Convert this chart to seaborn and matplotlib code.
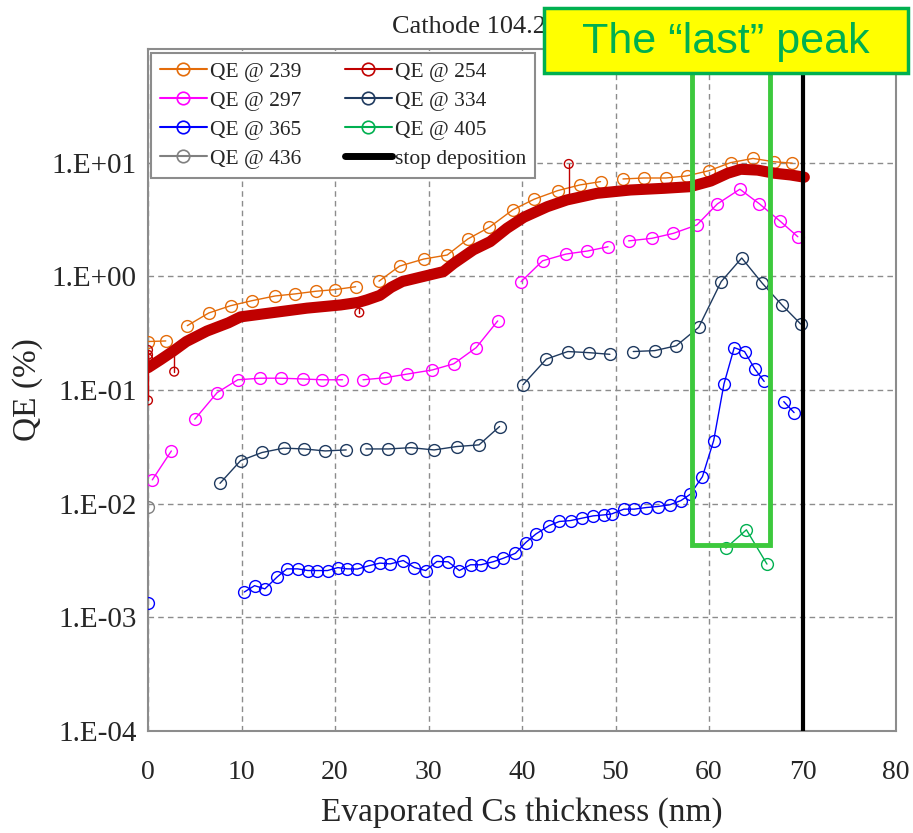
import numpy as np
import pandas as pd
import matplotlib
matplotlib.use("Agg")
import matplotlib.pyplot as plt
from matplotlib.lines import Line2D
from matplotlib.patches import Rectangle
import seaborn as sns

nan = np.nan

# ---------------- data ----------------
x239 = [0, 1.9, nan, 4.2, 6.5, 8.85, 11.1, 13.6, 15.7, 18.0, 20.0, 22.2, nan, 24.7, 26.9, 29.5, 32.0,
        34.2, 36.5, 39.0, 41.3, 43.8, 46.2, 48.4, nan, 50.8, 53.0, 55.4, 57.6, 60.0, 62.3, 64.7, 66.9, 68.9]
y239 = [0.267, 0.27, nan, 0.368, 0.476, 0.552, 0.61, 0.672, 0.70, 0.74, 0.764, 0.81, nan, 0.906, 1.23, 1.42, 1.54,
        2.13, 2.70, 3.84, 4.77, 5.67, 6.37, 6.81, nan, 7.19, 7.33, 7.33, 7.64, 8.5, 10.0, 10.9, 10.2, 9.9]

x254 = [0, 1.3, 2.7, 4.1, 6.3, 8.6, 9.9, 13.4, 17.0, 20.6, 22.5, 23.4, 24.8, 26.0, 27.2, 29.5, 31.6, 32.7,
        34.8, 36.6, 38.4, 40.2, 42.7, 44.8, 48.0, 51.6, 55.2, 58.0, 60.2, 62.0, 63.4, 65.2, 67.0, 68.7, 70.2]
y254 = [0.157, 0.184, 0.22, 0.267, 0.33, 0.39, 0.44, 0.48, 0.525, 0.56, 0.59, 0.62, 0.68, 0.80, 0.90, 1.0, 1.1, 1.3,
        1.71, 2.02, 2.65, 3.31, 4.1, 4.7, 5.37, 5.75, 5.95, 6.15, 6.9, 8.07, 8.75, 8.6, 8.07, 7.8, 7.45]
x254_spike = [0, 0, 0, 0, 2.8, 22.6, 45.0]
y254_spike = [0.081, 0.19, 0.204, 0.225, 0.145, 0.48, 9.74]

x297 = [0.46, 2.5, nan, 5.0, 7.4, 9.6, 12.0, 14.2, 16.6, 18.6, 20.8, nan, 23.0, 25.3, 27.7, 30.4, 32.7, 35.1, 37.4,
        nan, 39.9, 42.2, 44.7, 47.0, 49.2, nan, 51.4, 53.9, 56.2, 58.7, 60.9, 63.3, 65.4, 67.6, 69.5]
y297 = [0.0162, 0.0291, nan, 0.0553, 0.0949, 0.123, 0.127, 0.127, 0.125, 0.123, 0.123, nan, 0.123, 0.128, 0.138, 0.150,
        0.17, 0.236, 0.405, nan, 0.897, 1.37, 1.57, 1.67, 1.82, nan, 2.05, 2.16, 2.39, 2.83, 4.34, 5.84, 4.34, 3.06, 2.23]

x334 = [7.7, 9.9, 12.2, 14.5, 16.7, 18.95, 21.2, nan, 23.3, 25.7, 28.1, 30.6, 33.0, 35.4, 37.6, nan,
        40.1, 42.6, 44.9, 47.2, 49.4, nan, 51.9, 54.2, 56.5, 58.9, 61.3, 63.5, 65.7, 67.8, 69.8]
y334 = [0.0151, 0.0239, 0.0282, 0.0308, 0.0303, 0.0291, 0.0297, nan, 0.0303, 0.0303, 0.0311, 0.0297, 0.0318, 0.0329,
        0.0477, nan, 0.111, 0.187, 0.218, 0.213, 0.206, nan, 0.218, 0.222, 0.245, 0.356, 0.898, 1.45, 0.869, 0.56, 0.381]

x365 = [0, nan, 10.3, 11.4, 12.5, 13.8, 14.85, 16.0, 17.1, 18.1, 19.2, 20.3, 21.3, 22.4, 23.6, 24.8, 25.9, 27.3,
        28.5, 29.7, 30.9, 32.1, 33.3, 34.5, 35.6, 36.9, 38.0, 39.3, 40.4, 41.5, 42.9, 44.0, 45.2, 46.4, 47.6,
        48.8, 49.6, 50.9, 52.0, 53.3, 54.5, 55.8, 57.0, 58.0, 59.3, 60.5, 61.6, 62.7, 63.8, 64.9, 65.9, nan,
        68.0, 69.1]
y365 = [0.00133, nan, 0.00167, 0.0019, 0.00178, 0.00226, 0.00267, 0.00267, 0.00258, 0.00258, 0.00258, 0.00274,
        0.00267, 0.00266, 0.00284, 0.0030, 0.00295, 0.00316, 0.00274, 0.00258, 0.0031, 0.00308, 0.00258, 0.0029,
        0.0029, 0.00308, 0.00331, 0.00366, 0.00455, 0.00542, 0.00641, 0.00697, 0.0071, 0.00745, 0.00781, 0.00797,
        0.00813, 0.00895, 0.00895, 0.00925, 0.00944, 0.00977, 0.01065, 0.0121, 0.0173, 0.0359, 0.113, 0.236,
        0.218, 0.153, 0.119, nan, 0.079, 0.0633]

x405 = [61.8, 64.0, 66.2]
y405 = [0.00406, 0.00589, 0.00294]

x436 = [0]
y436 = [0.0094]

stop_x = 70
peak_box_x = [58.2, 66.5]
peak_box_bottom = 0.00435

legend_labels = ["QE @ 239", "QE @ 254", "QE @ 297", "QE @ 334", "QE @ 365", "QE @ 405", "QE @ 436",
                 "stop deposition"]
x_ticks = [0, 10, 20, 30, 40, 50, 60, 70, 80]
y_ticks = [1e-4, 1e-3, 1e-2, 1e-1, 1e0, 1e1]
y_ticklabels = ["1.E-04", "1.E-03", "1.E-02", "1.E-01", "1.E+00", "1.E+01"]
title_text = "Cathode 104.2"
note_text = "The \u201clast\u201d peak"
x_label = "Evaporated Cs thickness (nm)"
y_label = "QE (%)"

# ---------------- style ----------------
sns.set_style("white")
plt.rcParams["font.family"] = ["Liberation Serif", "DejaVu Serif"]

c239 = "#E46C0A"
c254 = "#C00000"
c297 = "#FF00FF"
c334 = "#1F3A5F"
c365 = "#0000FF"
c405 = "#00B050"
c436 = "#808080"

W, H = 913, 833
fig = plt.figure(figsize=(W / 100, H / 100), dpi=100)
ax = fig.add_axes([148 / W, 1 - 731 / H, (896 - 148) / W, (731 - 49) / H])


def series_df(xs, ys):
    xs = np.asarray(xs, float)
    ys = np.asarray(ys, float)
    seg = np.cumsum(np.isnan(ys))
    df = pd.DataFrame({"x": xs, "y": ys, "seg": seg})
    return df.dropna()


def draw(xs, ys, color, ms=8.5, lw=1.0):
    df = series_df(xs, ys)
    sns.lineplot(data=df, x="x", y="y", units="seg", estimator=None, sort=False, ax=ax,
                 color=color, linewidth=lw, marker="o", markersize=ms,
                 markerfacecolor="none", markeredgecolor=color, markeredgewidth=1.0,
                 legend=False, zorder=3)


draw(x239, y239, c239)

# thick band for QE@254 + spikes
df254 = series_df(x254, y254)
sns.lineplot(data=df254, x="x", y="y", estimator=None, sort=False, ax=ax, color=c254,
             linewidth=8, solid_capstyle="round", solid_joinstyle="round", legend=False, zorder=4)
band_log = np.interp(x254_spike, x254, np.log10(y254))
for xs_, ys_, b in zip(x254_spike, y254_spike, band_log):
    ax.plot([xs_, xs_], [10 ** b, ys_], color=c254, lw=1.0, zorder=4)
sns.scatterplot(x=x254_spike, y=y254_spike, ax=ax, marker="o", s=40, facecolors="none",
                edgecolor=c254, linewidth=1.0, zorder=4, legend=False)

draw(x297, y297, c297)
draw(x334, y334, c334)
draw(x365, y365, c365)
draw(x405, y405, c405)
draw(x436, y436, c436)

ax.axvline(stop_x, color="black", lw=3, zorder=5)

# green "last peak" box
ax.plot([peak_box_x[0], peak_box_x[0], peak_box_x[1], peak_box_x[1]],
        [1e2, peak_box_bottom, peak_box_bottom, 1e2], color="#3DC93D", lw=3.5,
        solid_joinstyle="miter", zorder=6, clip_on=False)

ax.set_yscale("log")
ax.set_xlim(0, 80)
ax.set_ylim(1e-4, 1e2)
ax.set_xticks(x_ticks)
ax.set_xticklabels([str(t) for t in x_ticks])
ax.set_yticks(y_ticks)
ax.set_yticklabels(y_ticklabels)
ax.minorticks_off()
ax.tick_params(axis="both", labelsize=20, direction="out", length=5, width=1, color="#808080")
ax.tick_params(axis="y", labelsize=21, pad=3)
ax.tick_params(axis="x", pad=16)
ax.grid(True, which="major", color="#8C8C8C", linestyle=(0, (4, 3)), linewidth=1)
for s in ax.spines.values():
    s.set_color("#8C8C8C")
    s.set_linewidth(1.5)
ax.set_xlabel(x_label, fontsize=24, labelpad=8)
ax.set_ylabel(y_label, fontsize=24, labelpad=6)

# legend (row-wise order in two columns)
def h(c):
    return Line2D([], [], color=c, lw=1.5, marker="o", markersize=9, markerfacecolor="none",
                  markeredgecolor=c, markeredgewidth=1.2)

handles = {
    "QE @ 239": h(c239), "QE @ 254": h(c254), "QE @ 297": h(c297), "QE @ 334": h(c334),
    "QE @ 365": h(c365), "QE @ 405": h(c405), "QE @ 436": h(c436),
    "stop deposition": Line2D([], [], color="black", lw=5),
}
order = [legend_labels[i] for i in (0, 2, 4, 6, 1, 3, 5, 7)]
leg = ax.legend([handles[k] for k in order], order, ncol=2, loc="upper left",
                bbox_to_anchor=(151 / W, 1 - 53 / H), bbox_transform=fig.transFigure,
                fontsize=15.5, frameon=True, fancybox=False, framealpha=1, edgecolor="#8C8C8C",
                handlelength=2.2, handletextpad=0.15, columnspacing=2.0, labelspacing=0.42,
                borderpad=0.4, borderaxespad=0)
leg.get_frame().set_linewidth(1.5)
leg.set_zorder(10)

# title (partly hidden) and yellow annotation box
fig.text(392 / W, 1 - 33 / H, title_text, fontsize=19, ha="left", va="baseline")
box = Rectangle((544 / W, 1 - 73 / H), (908 - 544) / W, 65 / H, transform=fig.transFigure,
                facecolor="#FFFF00", edgecolor="#00B050", linewidth=2.5, zorder=20)
fig.add_artist(box)
fig.text(726 / W, 1 - 42 / H, note_text, fontsize=31, color="#00B050", ha="center", va="center",
         family=["Liberation Sans Narrow", "Liberation Sans", "DejaVu Sans"], zorder=21)

fig.savefig("out.png", dpi=100)
